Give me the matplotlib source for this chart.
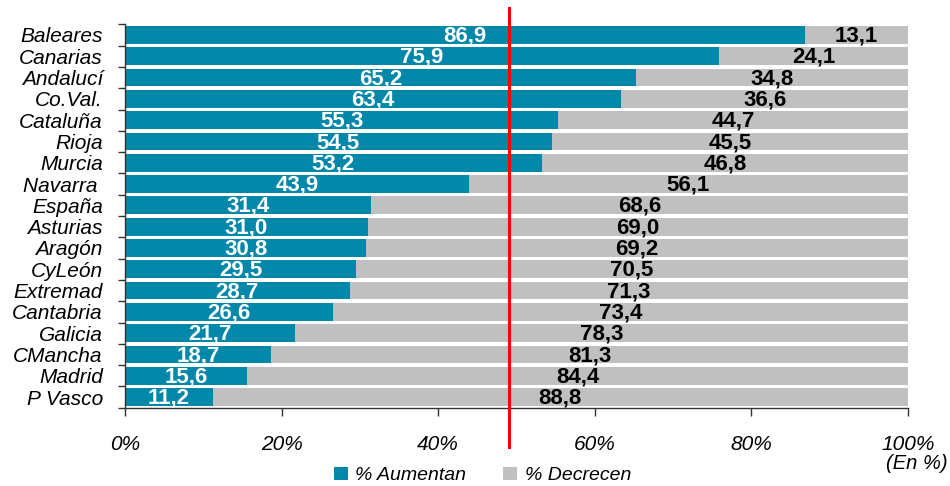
import matplotlib
matplotlib.use("Agg")
import matplotlib.pyplot as plt
import numpy as np
from matplotlib.patches import Patch

plt.rcParams['font.family'] = ['Liberation Sans', 'DejaVu Sans']

# Data
regions = ['Baleares', 'Canarias', 'Andalucí', 'Co.Val.', 'Cataluña', 'Rioja',
           'Murcia', 'Navarra ', 'España', 'Asturias', 'Aragón', 'CyLeón',
           'Extremad', 'Cantabria', 'Galicia', 'CMancha', 'Madrid', 'P Vasco']
aumentan = [86.9, 75.9, 65.2, 63.4, 55.3, 54.5, 53.2, 43.9, 31.4, 31.0, 30.8,
            29.5, 28.7, 26.6, 21.7, 18.7, 15.6, 11.2]
decrecen = [13.1, 24.1, 34.8, 36.6, 44.7, 45.5, 46.8, 56.1, 68.6, 69.0, 69.2,
            70.5, 71.3, 73.4, 78.3, 81.3, 84.4, 88.8]
ref_line = 49.0

blue = '#0087A9'
grey = '#C0C0C0'

fig = plt.figure(figsize=(9.5, 4.86), dpi=100)
ax = fig.add_axes([0.1316, 0.1611, 0.8242, 0.7889])

y = np.arange(len(regions))
h = 0.84
ax.barh(y, aumentan, height=h, color=blue)
ax.barh(y, decrecen, left=aumentan, height=h, color=grey)

for yi, a, d in zip(y, aumentan, decrecen):
    ax.text(a / 2, yi + 0.05, f'{a:.1f}'.replace('.', ','), ha='center', va='center',
            color='white', fontsize=16, fontweight='bold')
    ax.text(a + d / 2, yi + 0.05, f'{d:.1f}'.replace('.', ','), ha='center', va='center',
            color='black', fontsize=16, fontweight='bold')

ax.set_xlim(0, 100)
ax.set_ylim(len(regions) - 0.5, -0.5)

# y axis: labels at bar centres, ticks at bar boundaries
ax.set_yticks(y)
ax.set_yticklabels(regions, fontsize=15, style='italic')
ax.set_yticks(np.arange(len(regions) + 1) - 0.5, minor=True)
ax.tick_params(axis='y', which='major', length=0, pad=16)
ax.tick_params(axis='y', which='minor', length=5, width=1, color='#333333')

ax.set_xticks(np.arange(0, 101, 20))
ax.set_xticklabels([f'{v}%' for v in range(0, 101, 20)], fontsize=15, style='italic')
ax.tick_params(axis='x', length=6, width=1, color='#333333', pad=14)

for s in ['top', 'right']:
    ax.spines[s].set_visible(False)
for s in ['left', 'bottom']:
    ax.spines[s].set_color('#333333')
    ax.spines[s].set_linewidth(1)

ax.axvline(ref_line, ymin=-0.103, ymax=1.043, color='red', lw=2.2, clip_on=False, zorder=5)

fig.text(0.998, 0.047, '(En %)', ha='right', va='center', fontsize=14.5, style='italic')

handles = [Patch(facecolor=blue), Patch(facecolor=grey)]
fig.legend(handles, ['% Aumentan', '% Decrecen'], loc='center', bbox_to_anchor=(0.508, 0.022),
           ncol=2, frameon=False, prop={'size': 14, 'style': 'italic'},
           handlelength=0.7, handleheight=0.7, handletextpad=0.4, columnspacing=1.9)

fig.savefig('out.png', dpi=100)
